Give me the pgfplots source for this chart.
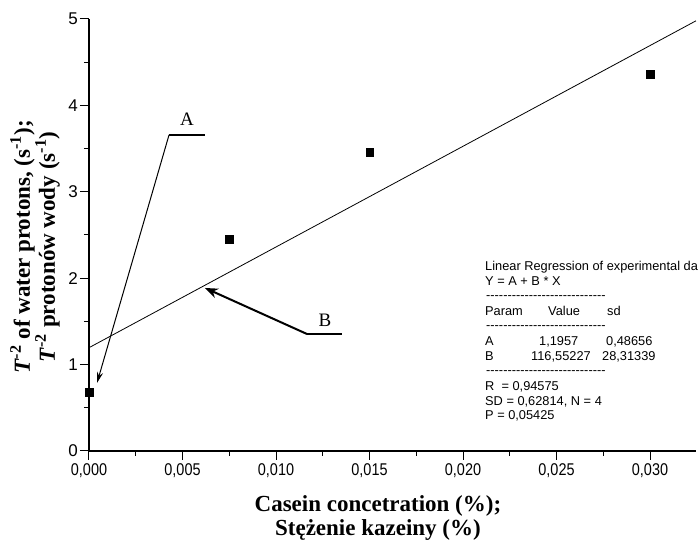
\documentclass[border=0pt]{standalone}
\usepackage{fontspec}
\setmainfont{Liberation Serif}
\setsansfont{Liberation Sans}
\usepackage{pgfplots}
\pgfplotsset{compat=1.18}
\usetikzlibrary{arrows.meta}

\def\hy{\mbox{-}}
\def\hyq{\hy\hy\hy\hy}
\def\dashes{\hyq\hyq\hyq\hyq\hyq\hyq\hyq}
\newcommand\regfont{\sffamily\fontsize{12.8}{15}\selectfont}

\begin{document}
\begin{tikzpicture}
\begin{axis}[
  at={(0,0)}, anchor=south west,
  scale only axis,
  width=607pt, height=432pt,
  xmin=0, xmax=0.03246,
  ymin=0, ymax=5,
  axis lines=left,
  axis line style={-, line width=1.4pt},
  clip=false,
  xtick={0,0.005,0.010,0.015,0.020,0.025,0.030},
  minor x tick num=1,
  scaled x ticks=false,
  ytick={0,1,2,3,4,5},
  minor y tick num=1,
  tick align=outside,
  major tick length=9pt,
  minor tick length=5pt,
  tick style={black, line width=1pt},
  /pgf/number format/assume math mode=true,
  xticklabel={\scalebox{0.85}[1]{\pgfmathprintnumber[fixed,fixed zerofill,precision=3,use comma]{\tick}}},
  tick label style={font=\sffamily\fontsize{17}{17}\selectfont},
  xticklabel style={inner sep=3pt},
  yticklabel style={inner sep=2pt},
  xlabel={Casein concetration (\%);\\Stężenie kazeiny (\%)},
  ylabel={\textit{T}\textsuperscript{-2} of water protons, (s\textsuperscript{-1});\\\textit{T}\textsuperscript{-2} protonów wody (s\textsuperscript{-1})},
  x label style={at={(axis description cs:0.476,-0.103)}, anchor=north,
    align=center, inner sep=0pt, font=\bfseries\fontsize{23}{24}\selectfont},
  y label style={at={(axis description cs:-0.0478,0.472)}, anchor=south,
    rotate=0, align=center, inner sep=0pt, font=\bfseries\fontsize{23}{25}\selectfont},
]
% measured points
\addplot[only marks, mark=square*, mark size=3.8pt, black] coordinates {
  (0,0.683) (0.0075,2.45) (0.015,3.46) (0.030,4.36)
};
% fitted line Y = A + B*X
\addplot[black, line width=0.8pt, no marks] coordinates {
  (0,1.1957) (0.03246,4.979)
};

% annotation A
\draw[line width=1.2pt] (axis cs:0.004278,3.657) -- (axis cs:0.006203,3.657);
\draw[line width=1pt, -{Stealth[length=11pt,width=6pt]}]
  (axis cs:0.004278,3.657) -- (axis cs:0.000428,0.787);
\node[font=\fontsize{19}{19}\selectfont] at (axis cs:0.005241,3.84) {A};

% annotation B
\draw[line width=1.2pt] (axis cs:0.011658,1.354) -- (axis cs:0.013529,1.354);
\draw[line width=2pt, -{Stealth[length=13pt,width=10pt]}]
  (axis cs:0.011658,1.354) -- (axis cs:0.0062,1.887);
\node[font=\fontsize{19}{19}\selectfont] at (axis cs:0.01262,1.516) {B};
\end{axis}

% regression report
\begin{scope}[every node/.style={anchor=base west, inner sep=0pt, font=\regfont}]
\node at (396pt,180pt) {Linear Regression of experimental da};
\node at (396pt,165pt) {Y = A + B * X};
\node at (397pt,151pt) {\dashes};
\node at (396pt,135pt) {Param};
\node at (459pt,135pt) {Value};
\node at (518pt,135pt) {sd};
\node at (397pt,121pt) {\dashes};
\node at (396pt,105pt) {A};
\node at (450pt,105pt) {1,1957};
\node at (517pt,105pt) {0,48656};
\node at (396pt,90pt) {B};
\node at (442pt,90pt) {116,55227};
\node at (513pt,90pt) {28,31339};
\node at (397pt,76pt) {\dashes};
\node at (396pt,60pt) {R\ \ = 0,94575};
\node at (396pt,45pt) {SD = 0,62814, N = 4};
\node at (396pt,31pt) {P = 0,05425};
\end{scope}

\pgfresetboundingbox
\path (-89pt,-89pt) rectangle (609pt,451pt);
\end{tikzpicture}
\end{document}
